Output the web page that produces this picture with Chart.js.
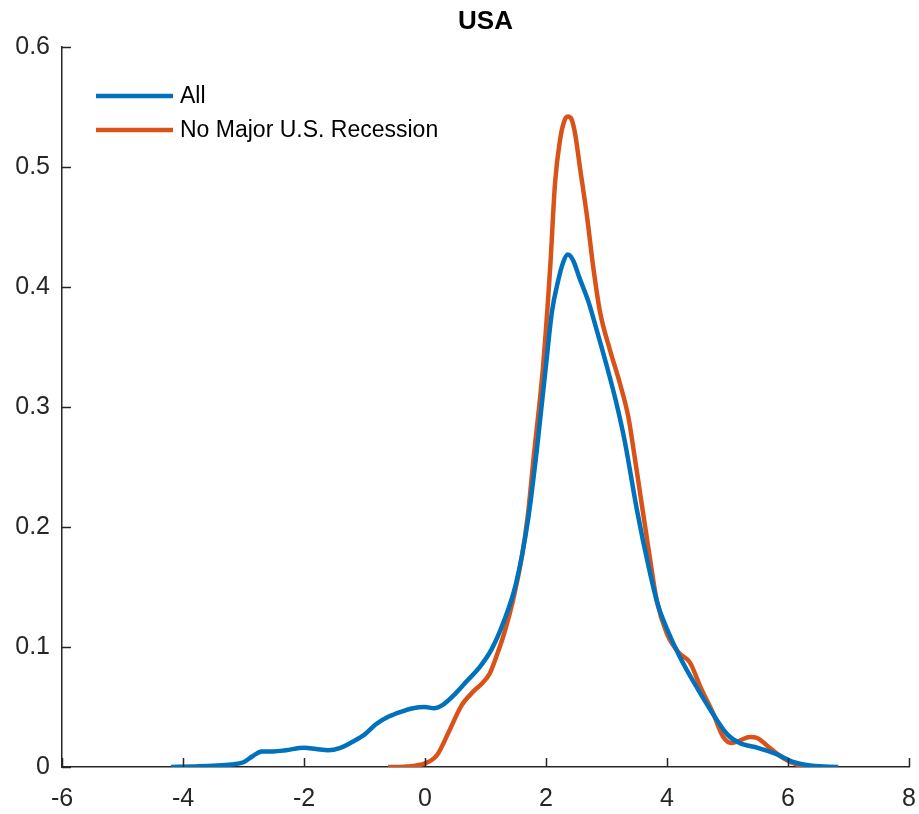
<!DOCTYPE html>
<html><head><meta charset="utf-8">
<script src="https://cdn.jsdelivr.net/npm/chart.js@4"></script>
<style>html,body{margin:0;padding:0;background:#fff}#wrap{width:919px;height:814px}</style>
</head><body><div id="wrap"><canvas id="c" width="919" height="814"></canvas></div>
<script>
const chartTitle = 'USA';
const seriesLabels = ['All', 'No Major U.S. Recession'];
const allX = [-4.2, -3.8, -3.5, -3.2, -3.0, -2.85, -2.7, -2.5, -2.3, -2.0, -1.8, -1.6, -1.4, -1.2, -1.0, -0.8, -0.6, -0.4, -0.2, 0.0, 0.15, 0.3, 0.5, 0.7, 0.9, 1.1, 1.3, 1.5, 1.7, 1.85, 2.0, 2.1, 2.2, 2.28, 2.36, 2.45, 2.55, 2.7, 2.85, 3.0, 3.15, 3.3, 3.5, 3.7, 3.85, 4.0, 4.2, 4.45, 4.75, 5.0, 5.2, 5.5, 5.8, 6.1, 6.4, 6.83];
const allY = [0, 0.0005, 0.001, 0.002, 0.004, 0.009, 0.013, 0.013, 0.014, 0.016, 0.015, 0.014, 0.016, 0.021, 0.027, 0.036, 0.042, 0.046, 0.049, 0.05, 0.049, 0.052, 0.061, 0.072, 0.083, 0.098, 0.121, 0.152, 0.205, 0.265, 0.335, 0.38, 0.405, 0.42, 0.427, 0.422, 0.408, 0.388, 0.362, 0.335, 0.306, 0.272, 0.215, 0.166, 0.135, 0.115, 0.093, 0.07, 0.045, 0.027, 0.02, 0.016, 0.011, 0.004, 0.001, 0];
const noRecX = [-0.61, -0.3, 0.0, 0.2, 0.4, 0.6, 0.8, 0.95, 1.07, 1.2, 1.3, 1.45, 1.6, 1.7, 1.8, 1.95, 2.07, 2.15, 2.23, 2.3, 2.36, 2.42, 2.48, 2.56, 2.68, 2.78, 2.89, 3.06, 3.22, 3.36, 3.44, 3.55, 3.7, 3.83, 4.0, 4.2, 4.38, 4.55, 4.76, 4.93, 5.07, 5.2, 5.37, 5.5, 5.65, 5.92, 6.15, 6.41];
const noRecY = [0, 0.0005, 0.003, 0.01, 0.03, 0.051, 0.063, 0.07, 0.078, 0.095, 0.11, 0.138, 0.175, 0.21, 0.26, 0.333, 0.417, 0.487, 0.522, 0.538, 0.542, 0.54, 0.528, 0.5, 0.458, 0.417, 0.38, 0.347, 0.32, 0.292, 0.267, 0.23, 0.18, 0.139, 0.111, 0.095, 0.087, 0.067, 0.045, 0.025, 0.02, 0.022, 0.025, 0.024, 0.018, 0.0075, 0.002, 0];
const xTicks = [-6, -4, -2, 0, 2, 4, 6, 8];
const yTicks = [0, 0.1, 0.2, 0.3, 0.4, 0.5, 0.6];
const yTickLabels = ['0', '0.1', '0.2', '0.3', '0.4', '0.5', '0.6'];

const AXIS = '#262626';
const FONT = "'Liberation Sans', Arial, Helvetica, sans-serif";

function pts(xs, ys) { return xs.map((x, i) => ({x: x, y: ys[i]})); }

const inwardTicks = {
  id: 'inwardTicks',
  afterDraw(chart) {
    const {ctx, chartArea, scales} = chart;
    ctx.save();
    ctx.strokeStyle = AXIS;
    ctx.lineWidth = 1.5;
    ctx.beginPath();
    scales.x.ticks.forEach(t => {
      const px = Math.round(scales.x.getPixelForValue(t.value)) + 0.5;
      ctx.moveTo(px, chartArea.bottom);
      ctx.lineTo(px, chartArea.bottom - 9);
    });
    scales.y.ticks.forEach(t => {
      const py = Math.round(scales.y.getPixelForValue(t.value)) + 0.5;
      ctx.moveTo(chartArea.left, py);
      ctx.lineTo(chartArea.left + 9, py);
    });
    ctx.stroke();
    ctx.restore();
  }
};

const innerLegend = {
  id: 'innerLegend',
  afterDraw(chart) {
    const {ctx, chartArea} = chart;
    ctx.save();
    ctx.font = '23px ' + FONT;
    ctx.textBaseline = 'middle';
    ctx.textAlign = 'left';
    chart.data.datasets.forEach((ds, i) => {
      const y = chartArea.top + 49 + i * 34;
      ctx.strokeStyle = ds.borderColor;
      ctx.lineWidth = 4.5;
      ctx.lineCap = 'butt';
      ctx.beginPath();
      ctx.moveTo(chartArea.left + 34, y);
      ctx.lineTo(chartArea.left + 111, y);
      ctx.stroke();
      ctx.fillStyle = '#000';
      ctx.fillText(ds.label, chartArea.left + 118, y + 1);
    });
    ctx.restore();
  }
};

const plotTitle = {
  id: 'plotTitle',
  afterDraw(chart) {
    const {ctx, chartArea} = chart;
    ctx.save();
    ctx.font = 'bold 26px ' + FONT;
    ctx.fillStyle = '#000';
    ctx.textAlign = 'center';
    ctx.textBaseline = 'alphabetic';
    ctx.fillText(chartTitle, (chartArea.left + chartArea.right) / 2, 29);
    ctx.restore();
  }
};

new Chart(document.getElementById('c'), {
  type: 'scatter',
  data: {
    datasets: [
      { label: seriesLabels[0], data: pts(allX, allY), borderColor: '#0072BD', backgroundColor: '#0072BD', showLine: true, borderWidth: 4.5, pointRadius: 0, cubicInterpolationMode: 'monotone', fill: false },
      { label: seriesLabels[1], data: pts(noRecX, noRecY), borderColor: '#D95319', backgroundColor: '#D95319', showLine: true, borderWidth: 4.5, pointRadius: 0, cubicInterpolationMode: 'monotone', fill: false }
    ]
  },
  options: {
    responsive: false,
    animation: false,
    devicePixelRatio: 1,
    layout: { padding: { left: 0, right: 0, top: 47, bottom: 0 } },
    plugins: {
      legend: { display: false },
      tooltip: { enabled: false },
      title: { display: false }
    },
    scales: {
      x: {
        type: 'linear', min: -6, max: 8,
        afterBuildTicks: s => { s.ticks = xTicks.map(v => ({value: v})); },
        afterFit: s => { s.height = 47; s.paddingRight = 10; s.paddingLeft = 0; },
        grid: { display: false, drawTicks: false },
        border: { display: true, color: AXIS, width: 1.5 },
        ticks: { color: AXIS, padding: 17, maxRotation: 0, font: { family: FONT, size: 25 }, callback: v => String(v) }
      },
      y: {
        type: 'linear', min: 0, max: 0.6,
        afterBuildTicks: s => { s.ticks = yTicks.map(v => ({value: v})); },
        afterFit: s => { s.width = 62; s.paddingTop = 0; s.paddingBottom = 0; },
        grid: { display: false, drawTicks: false },
        border: { display: true, color: AXIS, width: 1.5 },
        ticks: { color: AXIS, padding: 12, font: { family: FONT, size: 25 }, callback: (v) => { const i = yTicks.findIndex(t => Math.abs(t - v) < 1e-9); return i >= 0 ? yTickLabels[i] : ''; } }
      }
    }
  },
  plugins: [inwardTicks, innerLegend, plotTitle]
});
</script>
</body></html>
